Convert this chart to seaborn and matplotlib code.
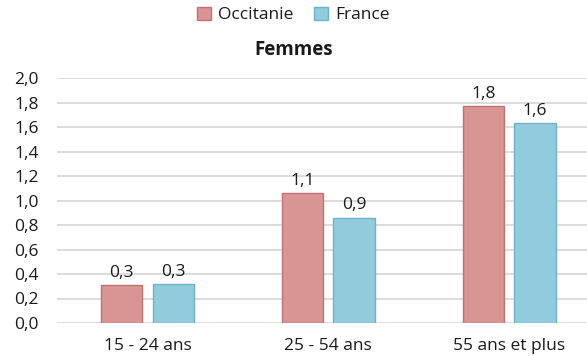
import matplotlib
matplotlib.use("Agg")
import matplotlib.pyplot as plt
import seaborn as sns
import pandas as pd
from matplotlib.patches import Patch

categories = ["15 - 24 ans", "25 - 54 ans", "55 ans et plus"]
series = ["Occitanie", "France"]
occitanie = [0.31, 1.06, 1.77]
france = [0.32, 0.86, 1.63]
yticks = [0.0, 0.2, 0.4, 0.6, 0.8, 1.0, 1.2, 1.4, 1.6, 1.8, 2.0]
title = "Femmes"

fills = {"Occitanie": "#d99594", "France": "#92cbdc"}
edges = {"Occitanie": "#c07272", "France": "#6bb2c6"}

sns.set_theme(style="white")
plt.rcParams["font.family"] = ["Open Sans", "DejaVu Sans"]

df = pd.DataFrame({
    "cat": categories * 2,
    "serie": [series[0]] * 3 + [series[1]] * 3,
    "val": occitanie + france,
})

fig = plt.figure(figsize=(5.87, 3.56), dpi=100)
ax = fig.add_axes([57 / 587, 1 - 323 / 356, 1 - 57 / 587, (323 - 78) / 356])

sns.barplot(data=df, x="cat", y="val", hue="serie", order=categories,
            hue_order=series, palette=fills, width=0.57, gap=0.2,
            saturation=1, legend=False, ax=ax, errorbar=None, zorder=3)

for bars, s in zip(ax.containers, series):
    for b in bars:
        b.set_edgecolor(edges[s])
        b.set_linewidth(1.0)
    ax.bar_label(bars, labels=[f"{v:.1f}".replace(".", ",") for v in bars.datavalues],
                 padding=3, fontsize=12.5, color="#1a1a1a")

ax.set_ylim(0, 2.0)
ax.set_xlim(-0.5, 2.43)
ax.set_yticks(yticks)
ax.set_yticklabels([f"{t:.1f}".replace(".", ",") for t in yticks])
ax.grid(axis="y", color="#d9d9d9", linewidth=1.3, zorder=0)
ax.set_axisbelow(True)
for sp in ax.spines.values():
    sp.set_visible(False)
ax.tick_params(axis="y", labelsize=12.5, colors="#1a1a1a", pad=13, length=0)
ax.tick_params(axis="x", labelsize=12.5, colors="#1a1a1a", pad=11, length=0)
ax.set_xlabel("")
ax.set_ylabel("")

fig.text(0.5, 1 - 50 / 356, title, ha="center", va="center",
         fontsize=13.5, fontweight="bold", color="#1a1a1a")

handles = [Patch(facecolor=fills[s], edgecolor=edges[s], label=s) for s in series]
fig.legend(handles=handles, loc="center", bbox_to_anchor=(0.5, 1 - 15 / 356),
           ncol=2, frameon=False, fontsize=12.5, handlelength=0.8,
           handleheight=0.8, handletextpad=0.4, columnspacing=1.2,
           labelcolor="#1a1a1a")

fig.savefig("out.png", dpi=100)
